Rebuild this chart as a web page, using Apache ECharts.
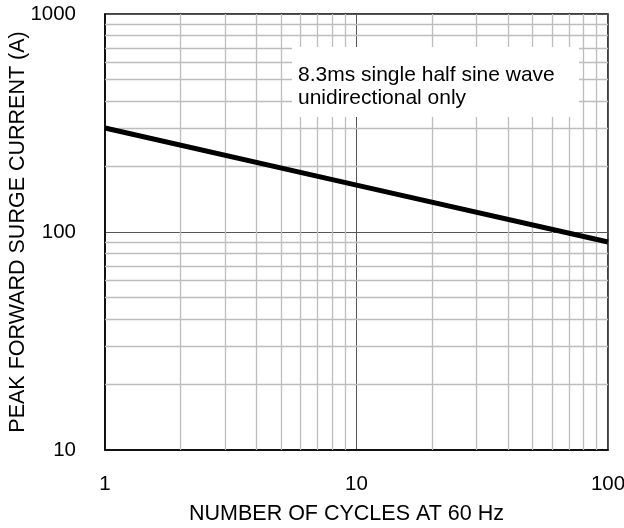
<!DOCTYPE html>
<html>
<head>
<meta charset="utf-8">
<script src="https://cdn.jsdelivr.net/npm/echarts@6/dist/echarts.min.js"></script>
<style>
html,body{margin:0;padding:0;background:#fff;}
#chart{width:624px;height:528px;}
</style>
</head>
<body>
<div id="chart"></div>
<script>
// Data
const cycles = [1, 10, 100];
const surgeCurrent = [300, 164, 90];
const xMinorGrid = [2, 3, 4, 5, 6, 7, 8, 9, 20, 30, 40, 50, 60, 70, 80, 90];
const yMinorGrid = [20, 30, 40, 50, 60, 70, 80, 90, 200, 300, 400, 500, 600, 700, 800, 900];
const annotationLines = ['8.3ms single half sine wave', 'unidirectional only'];
const xTitle = 'NUMBER OF CYCLES AT 60 Hz';
const yTitle = 'PEAK FORWARD SURGE CURRENT (A)';

const FONT = 'Liberation Sans, Arial, sans-serif';
const FS = 20.5;
const TFS = 21.5;
const chart = echarts.init(document.getElementById('chart'), null, {renderer: 'canvas'});

const minorLines = xMinorGrid.map(v => ({xAxis: v})).concat(yMinorGrid.map(v => ({yAxis: v})));

chart.setOption({
  animation: false,
  backgroundColor: '#fff',
  grid: {left: 105, right: 16, top: 14, bottom: 78, containLabel: false, outerBoundsMode: 'none',
    show: true, borderColor: '#000', borderWidth: 1.5, backgroundColor: 'transparent'},
  xAxis: {
    type: 'log', logBase: 10, min: 1, max: 100,
    name: xTitle, nameLocation: 'middle', nameGap: 53, nameMoveOverlap: false,
    nameTextStyle: {fontFamily: FONT, fontSize: TFS, color: '#000', padding: [0, 20, 0, 0]},
    axisLine: {show: true, lineStyle: {color: '#000', width: 1.5}},
    axisTick: {show: false},
    axisLabel: {fontFamily: FONT, fontSize: FS, color: '#000', margin: 24, formatter: v => String(v)},
    splitLine: {show: true, lineStyle: {color: '#555', width: 1}}
  },
  yAxis: {
    type: 'log', logBase: 10, min: 10, max: 1000,
    name: yTitle, nameLocation: 'middle', nameGap: 76, nameRotate: 90, nameMoveOverlap: false,
    nameTextStyle: {fontFamily: FONT, fontSize: TFS, color: '#000'},
    axisLine: {show: true, lineStyle: {color: '#000', width: 1.5}},
    axisTick: {show: false},
    axisLabel: {fontFamily: FONT, fontSize: FS, color: '#000', margin: 29, formatter: v => String(v)},
    splitLine: {show: true, lineStyle: {color: '#555', width: 1}}
  },
  graphic: [
    {type: 'rect', z: 50, shape: {x: 292, y: 47, width: 287, height: 70}, style: {fill: '#fff'}},
    {type: 'text', z: 51, x: 298, y: 64, style: {text: annotationLines.join('\n'), font: '21px ' + FONT, fill: '#000', lineHeight: 23}}
  ],
  series: [
    {
      type: 'line', data: [], silent: true, z: 1,
      markLine: {silent: true, symbol: 'none', label: {show: false}, animation: false,
        lineStyle: {color: '#bdbdbd', width: 1.3, type: 'solid'}, data: minorLines}
    },
    {
      type: 'line', z: 60, symbol: 'none',
      lineStyle: {color: '#000', width: 5},
      data: cycles.map((c, i) => [c, surgeCurrent[i]])
    }
  ]
});
</script>
</body>
</html>
